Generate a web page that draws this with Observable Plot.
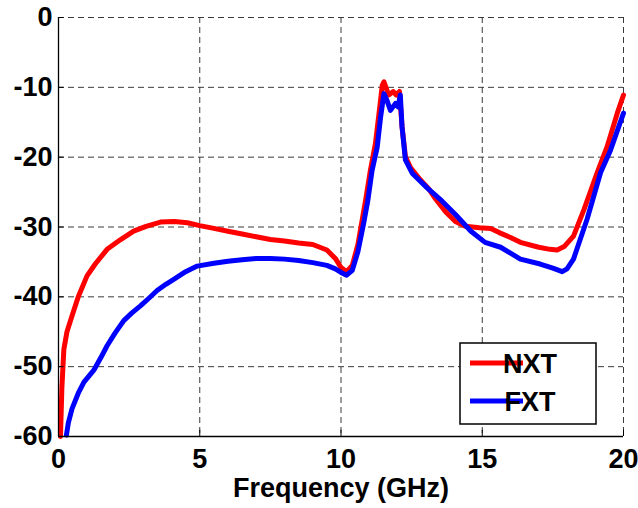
<!DOCTYPE html>
<html>
<head>
<meta charset="utf-8">
<script src="https://cdn.jsdelivr.net/npm/d3@7"></script>
<script src="https://cdn.jsdelivr.net/npm/@observablehq/plot@0.6"></script>
<style>
  html, body { margin: 0; padding: 0; background: #fff; }
  #chart { width: 638px; height: 508px; }
</style>
</head>
<body>
<div id="chart"></div>
<script>
// ---- Data ----
const seriesNames = ["NXT", "FXT"];
const seriesColors = ["#ff0000", "#0000ff"];

const nxtFreq = [0.07,0.12,0.19,0.3,0.48,0.7,1.01,1.3,1.72,2.2,2.66,3.1,3.61,4.1,4.56,5.0,5.5,6.0,6.5,7.0,7.5,8.0,8.5,9.0,9.5,9.8,10.0,10.2,10.4,10.6,10.75,10.87,11.04,11.22,11.4,11.46,11.52,11.69,11.85,11.95,12.07,12.16,12.28,12.46,12.8,13.1,13.35,13.7,14.05,14.4,14.9,15.3,15.6,16.0,16.35,17.0,17.4,17.65,17.9,18.23,18.6,19.07,19.42,19.78,20.0];
const nxtVals = [-60,-53,-47.5,-45,-42.7,-40,-37,-35.3,-33.2,-31.8,-30.6,-29.9,-29.3,-29.2,-29.4,-29.8,-30.2,-30.6,-31.0,-31.4,-31.8,-32.0,-32.3,-32.5,-33.3,-34.5,-35.8,-36.4,-35.5,-32.5,-29,-26.2,-21.9,-18,-11.9,-9.7,-9.2,-11.1,-10.6,-11.1,-10.6,-15.6,-19.9,-21.5,-23.2,-24.5,-26,-27.8,-29.2,-29.9,-30.1,-30.2,-30.8,-31.5,-32.2,-32.9,-33.2,-33.3,-32.8,-31.3,-27.5,-22.2,-18.5,-13.7,-11.1];

const fxtFreq = [0.28,0.35,0.48,0.7,0.9,1.25,1.5,1.72,2.0,2.31,2.6,2.9,3.2,3.49,3.8,4.08,4.5,4.91,5.5,6.0,6.5,7.0,7.5,8.0,8.5,9.0,9.5,9.8,10.0,10.2,10.4,10.6,10.8,10.95,11.1,11.28,11.4,11.52,11.62,11.75,11.93,12.02,12.1,12.16,12.28,12.52,13.05,13.5,14.05,14.6,15.1,15.65,16.35,17.05,17.5,17.83,18.0,18.23,18.71,19.19,19.54,20.0];
const fxtVals = [-59.8,-58,-56,-53.8,-52.2,-50.5,-48.7,-47,-45.2,-43.4,-42.3,-41.3,-40.2,-39.1,-38.2,-37.5,-36.4,-35.6,-35.2,-34.9,-34.7,-34.5,-34.5,-34.6,-34.8,-35.1,-35.5,-36.0,-36.5,-36.9,-36.2,-33.5,-29.5,-26.2,-21.9,-18.6,-14.3,-10.9,-11.8,-13.3,-12.3,-12.8,-11.1,-15.6,-20.4,-22.3,-24.4,-26,-28.2,-30.6,-32.2,-32.9,-34.6,-35.3,-35.9,-36.4,-36.0,-34.6,-28.9,-22.2,-19,-13.7];

const xTicks = [0, 5, 10, 15, 20];
const yTicks = [0, -10, -20, -30, -40, -50, -60];
const xLabel = "Frequency (GHz)";

// ---- Build tables ----
const nxt = nxtFreq.map((f, i) => ({f, v: nxtVals[i], s: "NXT"}));
const fxt = fxtFreq.map((f, i) => ({f, v: fxtVals[i], s: "FXT"}));

const FONT = "'Liberation Sans', Arial, Helvetica, sans-serif";
const fmt = d => String(d); // plain hyphen minus, as in the reference

const plot = Plot.plot({
  width: 638,
  height: 508,
  marginLeft: 58,
  marginRight: 15,
  marginTop: 17,
  marginBottom: 72,
  style: {fontFamily: FONT, fontWeight: "bold", fontSize: "27px", background: "#fff", color: "#000", overflow: "visible"},
  x: {domain: [0, 20]},
  y: {domain: [-60, 0]},
  marks: [
    Plot.gridX(xTicks, {stroke: "#3a3a3a", strokeOpacity: 1, strokeWidth: 1, strokeDasharray: "6,4"}),
    Plot.gridY(yTicks, {stroke: "#3a3a3a", strokeOpacity: 1, strokeWidth: 1, strokeDasharray: "6,4"}),
    Plot.line(nxt, {x: "f", y: "v", stroke: seriesColors[0], strokeWidth: 5, strokeLinejoin: "round", strokeLinecap: "round"}),
    Plot.line(fxt, {x: "f", y: "v", stroke: seriesColors[1], strokeWidth: 5, strokeLinejoin: "round", strokeLinecap: "round"}),
    // inward tick marks
    Plot.ruleX(xTicks, {x: d => d, y1: -60, y2: -59.1, stroke: "#000", strokeWidth: 1}),
    Plot.ruleY(yTicks, {y: d => d, x1: 0, x2: 0.2, stroke: "#000", strokeWidth: 1}),
    Plot.axisX(xTicks, {tickSize: 0, tickPadding: 12, tickFormat: fmt, label: null, fontSize: 27, fontWeight: "bold"}),
    Plot.axisY(yTicks, {tickSize: 0, tickPadding: 6, tickFormat: fmt, label: null, fontSize: 27, fontWeight: "bold"}),
    Plot.ruleX([0], {stroke: "#000", strokeWidth: 1.3}),
    Plot.ruleY([-60], {stroke: "#000", strokeWidth: 1.3}),
    Plot.text([xLabel], {text: d => d, frameAnchor: "bottom", dy: 60, fontSize: 27, fontWeight: "bold", fill: "#000"})
  ]
});

document.getElementById("chart").appendChild(plot);

// ---- Legend ----
const svg = d3.select(plot);
const lg = svg.append("g").attr("transform", "translate(460,343)");
lg.append("rect").attr("width", 136).attr("height", 81).attr("fill", "#fff").attr("stroke", "#000").attr("stroke-width", 1.5);
seriesNames.forEach((name, i) => {
  const cy = 20 + i * 38;
  lg.append("line").attr("x1", 10).attr("x2", 63).attr("y1", cy).attr("y2", cy)
    .attr("stroke", seriesColors[i]).attr("stroke-width", 5);
  lg.append("text").attr("x", 70).attr("y", cy).attr("dy", "0.36em")
    .attr("font-family", FONT).attr("font-weight", "bold").attr("font-size", 27).attr("fill", "#000")
    .text(name);
});
</script>
</body>
</html>
